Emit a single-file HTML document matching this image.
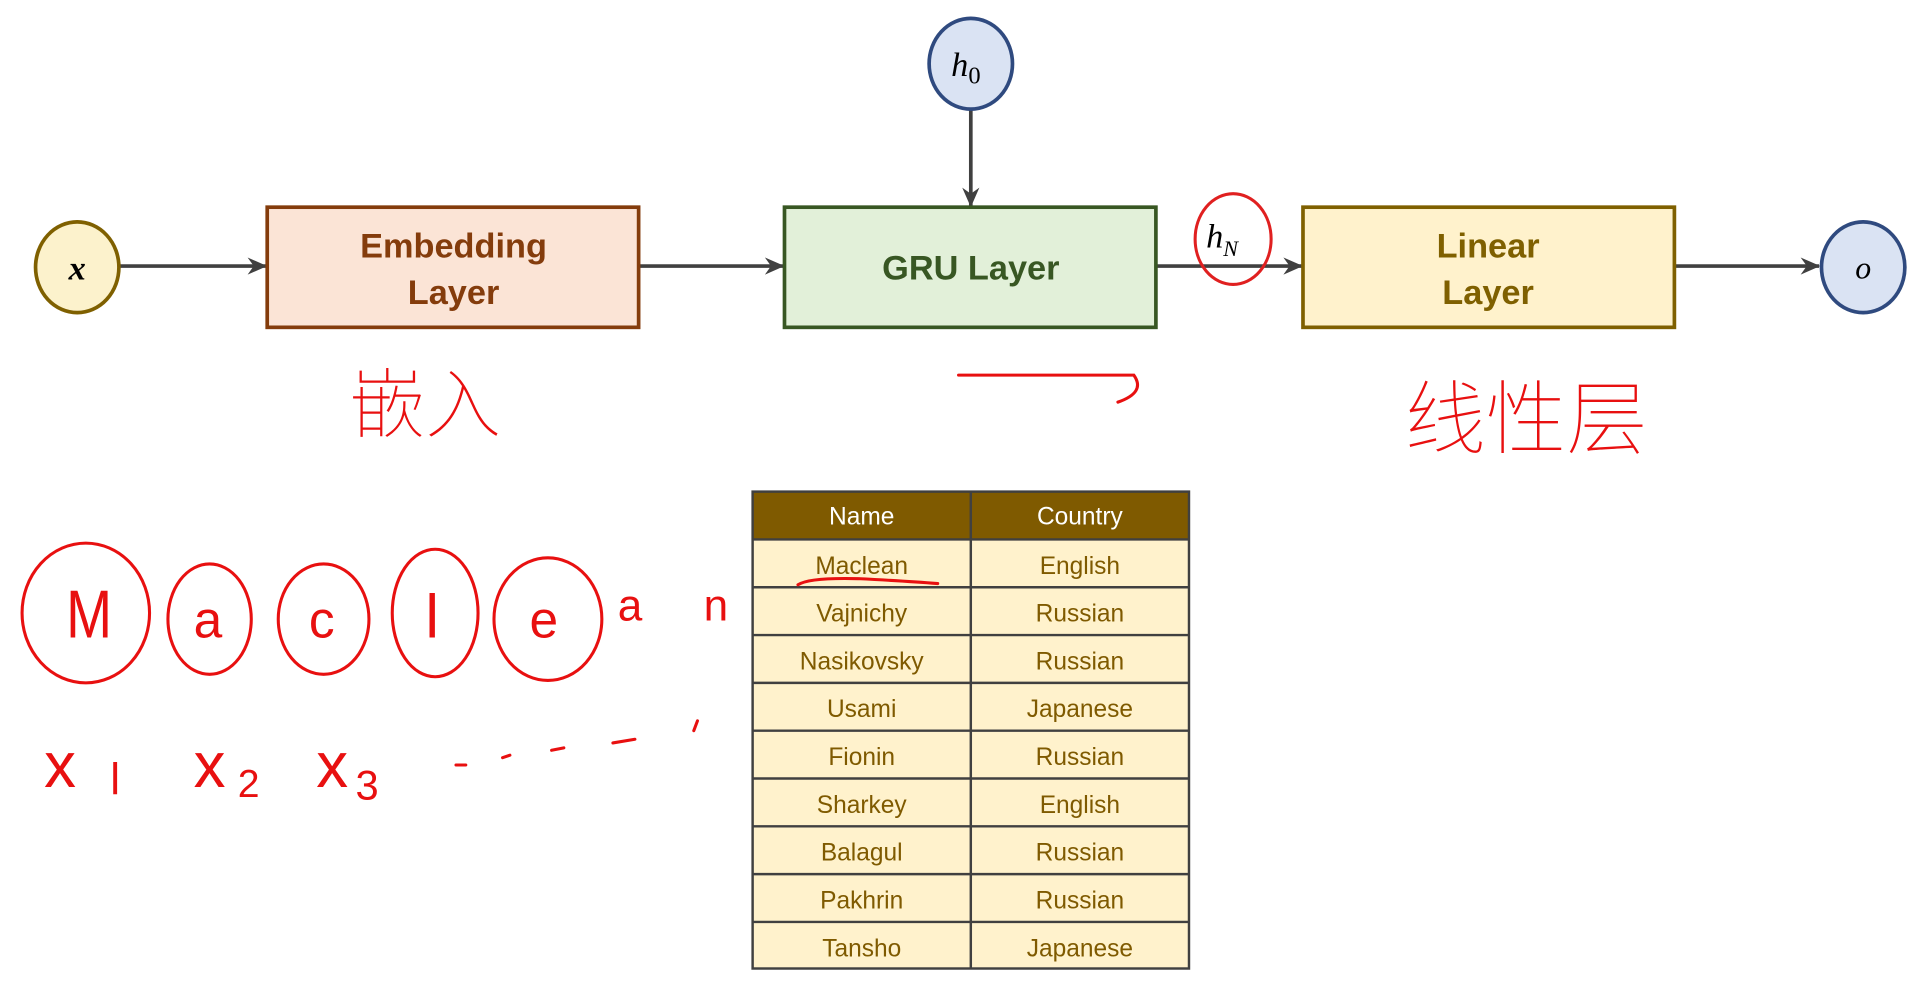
<!DOCTYPE html>
<html><head><meta charset="utf-8"><style>
html,body{margin:0;padding:0;background:#fff;}
svg{display:block;}
</style></head><body>
<svg width="1922" height="982" viewBox="0 0 1568 801" preserveAspectRatio="none" xmlns="http://www.w3.org/2000/svg" font-family="Liberation Sans, sans-serif">
<defs><marker id="ar" markerWidth="16" markerHeight="16" refX="15" refY="8" orient="auto" markerUnits="userSpaceOnUse"><path d="M0,1 L16,8 L0,15 L5,8 z" fill="#404040"/></marker></defs>
<g stroke="#404040" stroke-width="3" fill="none">
<line x1="98" y1="217" x2="217" y2="217" marker-end="url(#ar)"/>
<line x1="521" y1="217" x2="639" y2="217" marker-end="url(#ar)"/>
<line x1="943" y1="217" x2="1062" y2="217" marker-end="url(#ar)"/>
<line x1="1366" y1="217" x2="1484" y2="217" marker-end="url(#ar)"/>
<line x1="792" y1="88" x2="792" y2="168" marker-end="url(#ar)"/>
</g>
<ellipse cx="63" cy="218" rx="34" ry="37" fill="#fcf2cc" stroke="#7f6000" stroke-width="3"/>
<text x="63" y="228" font-family="Liberation Serif, serif" font-style="italic" font-weight="bold" font-size="28" text-anchor="middle">x</text>
<ellipse cx="792" cy="52" rx="34" ry="37" fill="#dae3f3" stroke="#2f4a7f" stroke-width="3"/>
<text x="788" y="62" font-family="Liberation Serif, serif" font-style="italic" font-size="28" text-anchor="middle">h<tspan font-size="20" dy="6" font-style="normal">0</tspan></text>
<ellipse cx="1520" cy="218" rx="34" ry="37" fill="#dae3f3" stroke="#2f4a7f" stroke-width="3"/>
<text x="1520" y="227" font-family="Liberation Serif, serif" font-style="italic" font-size="26" text-anchor="middle">o</text>
<rect x="218" y="169" width="303" height="98" fill="#fbe4d6" stroke="#843c0c" stroke-width="3"/>
<text x="370" y="210" font-weight="bold" font-size="28" fill="#843c0c" text-anchor="middle">Embedding</text>
<text x="370" y="248" font-weight="bold" font-size="28" fill="#843c0c" text-anchor="middle">Layer</text>
<rect x="640" y="169" width="303" height="98" fill="#e2f0d9" stroke="#385723" stroke-width="3"/>
<text x="792" y="228" font-weight="bold" font-size="28" fill="#385723" text-anchor="middle">GRU Layer</text>
<rect x="1063" y="169" width="303" height="98" fill="#fff2cc" stroke="#7f6000" stroke-width="3"/>
<text x="1214" y="210" font-weight="bold" font-size="28" fill="#7f6000" text-anchor="middle">Linear</text>
<text x="1214" y="248" font-weight="bold" font-size="28" fill="#7f6000" text-anchor="middle">Layer</text>
<text x="984" y="202" font-family="Liberation Serif, serif" font-style="italic" font-size="28">h<tspan font-size="18" dy="7">N</tspan></text>
<ellipse cx="1006" cy="195" rx="31" ry="37" fill="none" stroke="#e02020" stroke-width="2.5"/>
<g font-size="20" text-anchor="middle">
<rect x="614" y="401" width="356" height="39" fill="#7f5a00"/>
<text x="703" y="428" fill="#fff">Name</text><text x="881" y="428" fill="#fff">Country</text>
<rect x="614" y="440" width="356" height="350" fill="#fff2cc"/>
<g stroke="#404040" stroke-width="2">
<line x1="792" y1="401" x2="792" y2="790"/>
<line x1="614" y1="440" x2="970" y2="440"/>
<line x1="614" y1="479" x2="970" y2="479"/><line x1="614" y1="518" x2="970" y2="518"/>
<line x1="614" y1="557" x2="970" y2="557"/><line x1="614" y1="596" x2="970" y2="596"/>
<line x1="614" y1="635" x2="970" y2="635"/><line x1="614" y1="674" x2="970" y2="674"/>
<line x1="614" y1="713" x2="970" y2="713"/><line x1="614" y1="752" x2="970" y2="752"/>
<rect x="614" y="401" width="356" height="389" fill="none"/>
</g>
<g fill="#7f5a00">
<text x="703" y="468">Maclean</text><text x="881" y="468">English</text>
<text x="703" y="507">Vajnichy</text><text x="881" y="507">Russian</text>
<text x="703" y="546">Nasikovsky</text><text x="881" y="546">Russian</text>
<text x="703" y="585">Usami</text><text x="881" y="585">Japanese</text>
<text x="703" y="624">Fionin</text><text x="881" y="624">Russian</text>
<text x="703" y="663">Sharkey</text><text x="881" y="663">English</text>
<text x="703" y="702">Balagul</text><text x="881" y="702">Russian</text>
<text x="703" y="741">Pakhrin</text><text x="881" y="741">Russian</text>
<text x="703" y="780">Tansho</text><text x="881" y="780">Japanese</text>
</g>
</g>
<g stroke="#e81010" stroke-width="2.5" fill="none" stroke-linecap="round">
<path d="M651,477 Q660,471 700,472 Q740,474 765,476"/>
<path d="M782,306 L925,306 Q935,320 912,328"/>
<ellipse cx="70" cy="500" rx="52" ry="57"/>
<ellipse cx="171" cy="505" rx="34" ry="45"/>
<ellipse cx="264" cy="505" rx="37" ry="45"/>
<ellipse cx="355" cy="500" rx="35" ry="52"/>
<ellipse cx="447" cy="505" rx="44" ry="50"/>
<path d="M372,624 l8,0 M410,618 l6,-2 M450,612 l10,-2 M500,606 l18,-3 M566,596 l3,-8"/>
</g>
<g fill="#e81010" font-family="Liberation Sans, sans-serif">
<text x="54" y="520" font-size="50" font-weight="100" transform="translate(54,520) scale(0.9,1.1) translate(-54,-520)">M</text>
<text x="158" y="520" font-size="42">a</text>
<text x="252" y="520" font-size="42">c</text>
<text x="347" y="520" font-size="50">l</text>
<text x="432" y="520" font-size="42">e</text>
<text x="504" y="506" font-size="36">a</text>
<text x="574" y="506" font-size="36">n</text>
<text x="36" y="642" font-size="52">x</text><text x="90" y="648" font-size="36">l</text>
<text x="158" y="642" font-size="52">x</text><text x="194" y="650" font-size="32">2</text>
<text x="258" y="642" font-size="52">x</text><text x="290" y="652" font-size="34">3</text>
<text x="285" y="352" font-size="62" font-family="Noto Sans CJK SC, sans-serif" font-weight="100">嵌入</text>
<text x="1146" y="365" font-size="66" font-family="Noto Sans CJK SC, sans-serif" font-weight="100">线性层</text>
</g>
</svg>
</body></html>
